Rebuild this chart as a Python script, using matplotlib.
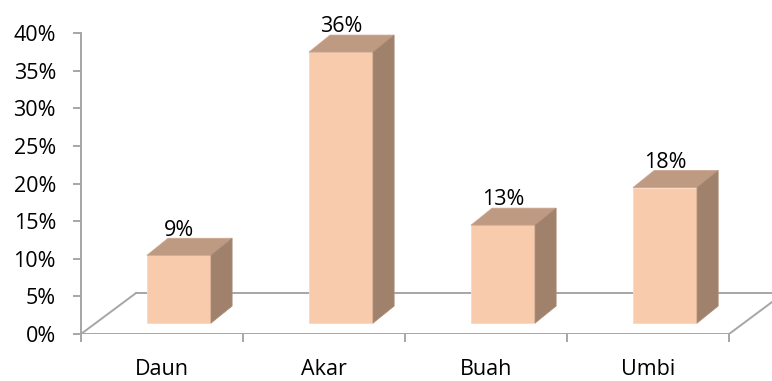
import numpy as np
import matplotlib.pyplot as plt
from matplotlib.patches import Polygon

categories = ['Daun', 'Akar', 'Buah', 'Umbi']
values = [9, 36, 13, 18]  # percent
y_ticks = [0, 5, 10, 15, 20, 25, 30, 35, 40]

front_col = '#F8CBAD'
top_col = '#BF9A82'
side_col = '#A0826C'
grey = '#A6A6A6'

# 3D look parameters (data units)
bar_w = 0.395
bar_shift = 0.105
depth_x = 0.13
depth_y = 2.26
base = 1.46
floor_dx = 0.34
floor_dy = 5.45

plt.rcParams['font.family'] = ['Open Sans', 'DejaVu Sans']
fs = 15.5

fig = plt.figure(figsize=(7.72, 3.81), dpi=100)
ax = fig.add_axes([81 / 772, 47 / 381, 1 - 81 / 772, 301 / 381])
ax.set_xlim(-0.5, 3.765)
ax.set_ylim(0, 40)

# floor
n = len(categories)
ax.plot([-0.5, n - 0.5], [0, 0], color=grey, lw=1.4, zorder=1)
ax.plot([-0.5, -0.5 + floor_dx], [0, floor_dy], color=grey, lw=1.4, zorder=1)
ax.plot([-0.5 + floor_dx, 5], [floor_dy, floor_dy], color=grey, lw=1.4, zorder=1)
ax.plot([n - 0.5, n - 0.5 + floor_dx], [0, floor_dy], color=grey, lw=1.4, zorder=1)

for i, v in enumerate(values):
    x0 = i - bar_w / 2 + bar_shift
    x1 = x0 + bar_w
    top = base + v
    front = [(x0, base), (x1, base), (x1, top), (x0, top)]
    roof = [(x0, top), (x1, top), (x1 + depth_x, top + depth_y), (x0 + depth_x, top + depth_y)]
    side = [(x1, base), (x1 + depth_x, base + depth_y), (x1 + depth_x, top + depth_y), (x1, top)]
    ax.add_patch(Polygon(front, closed=True, fc=front_col, ec='#FAD9C3', lw=0.6, zorder=3))
    ax.add_patch(Polygon(roof, closed=True, fc=top_col, ec='#C9A58E', lw=0.6, zorder=3))
    ax.add_patch(Polygon(side, closed=True, fc=side_col, ec='#A98B75', lw=0.6, zorder=3))
    ax.text(i + bar_shift, top + depth_y - 0.3, str(v) + '%', ha='center', va='bottom',
            fontsize=fs, color='black', zorder=4)

ax.set_yticks(y_ticks)
ax.set_yticklabels([str(t) + '%' for t in y_ticks], fontsize=fs)
ax.set_xticks(np.arange(n + 1) - 0.5)
ax.set_xticklabels([''] * (n + 1))
ax.set_xticks(np.arange(n), minor=True)
ax.set_xticklabels(categories, minor=True, fontsize=fs)
ax.tick_params(axis='x', which='minor', length=0, pad=18)
ax.tick_params(axis='x', which='major', length=6, width=1.4, color=grey)
ax.tick_params(axis='y', length=6, width=1.4, color=grey, pad=12)

for s in ['top', 'right', 'bottom']:
    ax.spines[s].set_visible(False)
ax.spines['left'].set_color(grey)
ax.spines['left'].set_linewidth(1.4)

fig.savefig('out.png', dpi=100)
